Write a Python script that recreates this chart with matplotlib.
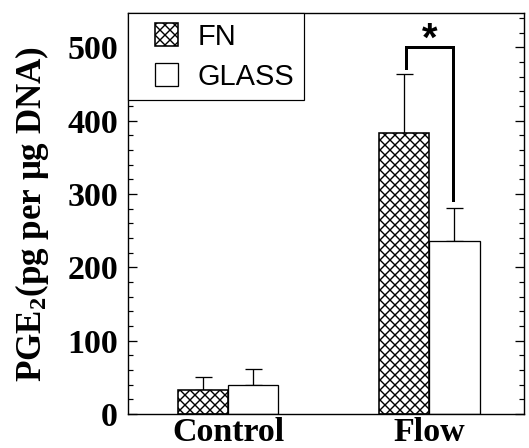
import matplotlib
matplotlib.use("Agg")
import matplotlib.pyplot as plt
from matplotlib.patches import Rectangle
from matplotlib.container import BarContainer
from matplotlib.legend_handler import HandlerPatch, update_from_first_child
import numpy as np

categories = ["Control", "Flow"]
series_names = ["FN", "GLASS"]
fn_values = [33, 383]
fn_err = [18, 81]
glass_values = [39, 236]
glass_err = [22, 45]
y_ticks = [0, 100, 200, 300, 400, 500]

DPI = 120
P = 72.0 / DPI  # points per pixel

plt.rcParams['hatch.linewidth'] = 1.4 * P
plt.rcParams['mathtext.fontset'] = 'custom'
plt.rcParams['mathtext.rm'] = 'Liberation Serif:bold'
plt.rcParams['mathtext.bf'] = 'Liberation Serif:bold'
plt.rcParams['mathtext.it'] = 'Liberation Serif:bold:italic'
plt.rcParams['mathtext.default'] = 'rm'

fig = plt.figure(figsize=(529 / DPI, 448 / DPI), dpi=DPI)
ax = fig.add_axes([128/529, 1 - 414/448, (524-128)/529, (414-13)/448])

x = np.arange(len(categories))
w = 0.249
lw = 1.3 * P
ax.bar(x - w/2, fn_values, w, color='white', edgecolor='black', hatch='xxxx',
       linewidth=1.6 * P, label=series_names[0], zorder=2)
ax.bar(x + w/2, glass_values, w, color='white', edgecolor='black',
       linewidth=lw, label=series_names[1], zorder=2)
ax.errorbar(x - w/2, fn_values, yerr=[np.zeros(2), fn_err], fmt='none',
            ecolor='black', elinewidth=lw, capsize=8.5 * P, capthick=lw, zorder=1)
ax.errorbar(x + w/2, glass_values, yerr=[np.zeros(2), glass_err], fmt='none',
            ecolor='black', elinewidth=lw, capsize=8.5 * P, capthick=lw, zorder=1)

# significance bracket
x1 = x[1] - w/2 + 0.01
x2 = x[1] + w/2 - 0.005
ax.plot([x1, x1, x2, x2], [472, 500, 500, 292], color='black', lw=3.0 * P,
        solid_joinstyle='miter', zorder=3)
ax.text((x1 + x2) / 2, 496, '*', ha='center', va='baseline', fontsize=40 * P,
        fontweight='bold', family='Liberation Sans')

ax.set_xlim(-0.498, 1.47)
ax.set_ylim(0, 547)
ax.set_yticks(y_ticks)
ax.set_yticks(np.arange(0, 547, 20), minor=True)
ax.set_xticks(x)
ax.set_xticklabels(categories, fontsize=34 * P, fontweight='bold',
                   family='Liberation Serif')
ax.set_yticklabels([str(t) for t in y_ticks], fontsize=34 * P, fontweight='bold',
                   family='Liberation Serif')
ax.tick_params(axis='x', length=0, pad=3 * P)
ax.tick_params(axis='y', which='major', direction='in', length=9 * P,
               width=1.3 * P, right=True, pad=10 * P)
ax.tick_params(axis='y', which='minor', direction='in', length=5 * P,
               width=1.2 * P, right=True)
for s in ax.spines.values():
    s.set_linewidth(1.4 * P)

ax.set_ylabel('PGE$_{2}$(pg per μg DNA)', fontsize=35 * P,
              fontweight='bold', family='Liberation Serif')
ax.yaxis.set_label_coords((51 - 128) / 396, 0.5)

LEG_FS = 29 * P
SQ = 23 * P


def square_patch(legend, orig_handle, xdescent, ydescent, width, height, fontsize):
    return Rectangle((width - SQ - xdescent, (height - SQ) / 2 - ydescent), SQ, SQ)


hmap = {BarContainer: HandlerPatch(patch_func=square_patch,
                                   update_func=update_from_first_child)}
leg = ax.legend(loc='upper left', bbox_to_anchor=(0, 1), borderaxespad=0,
                fancybox=False, frameon=True, edgecolor='black', framealpha=1,
                prop={'family': 'Liberation Sans', 'size': LEG_FS},
                handlelength=40 / 29, handleheight=23 / 29, labelspacing=0.42,
                borderpad=0.33, handletextpad=20 / 29, handler_map=hmap)
leg.get_frame().set_linewidth(1.2 * P)

fig.savefig('out.png', dpi=DPI)
